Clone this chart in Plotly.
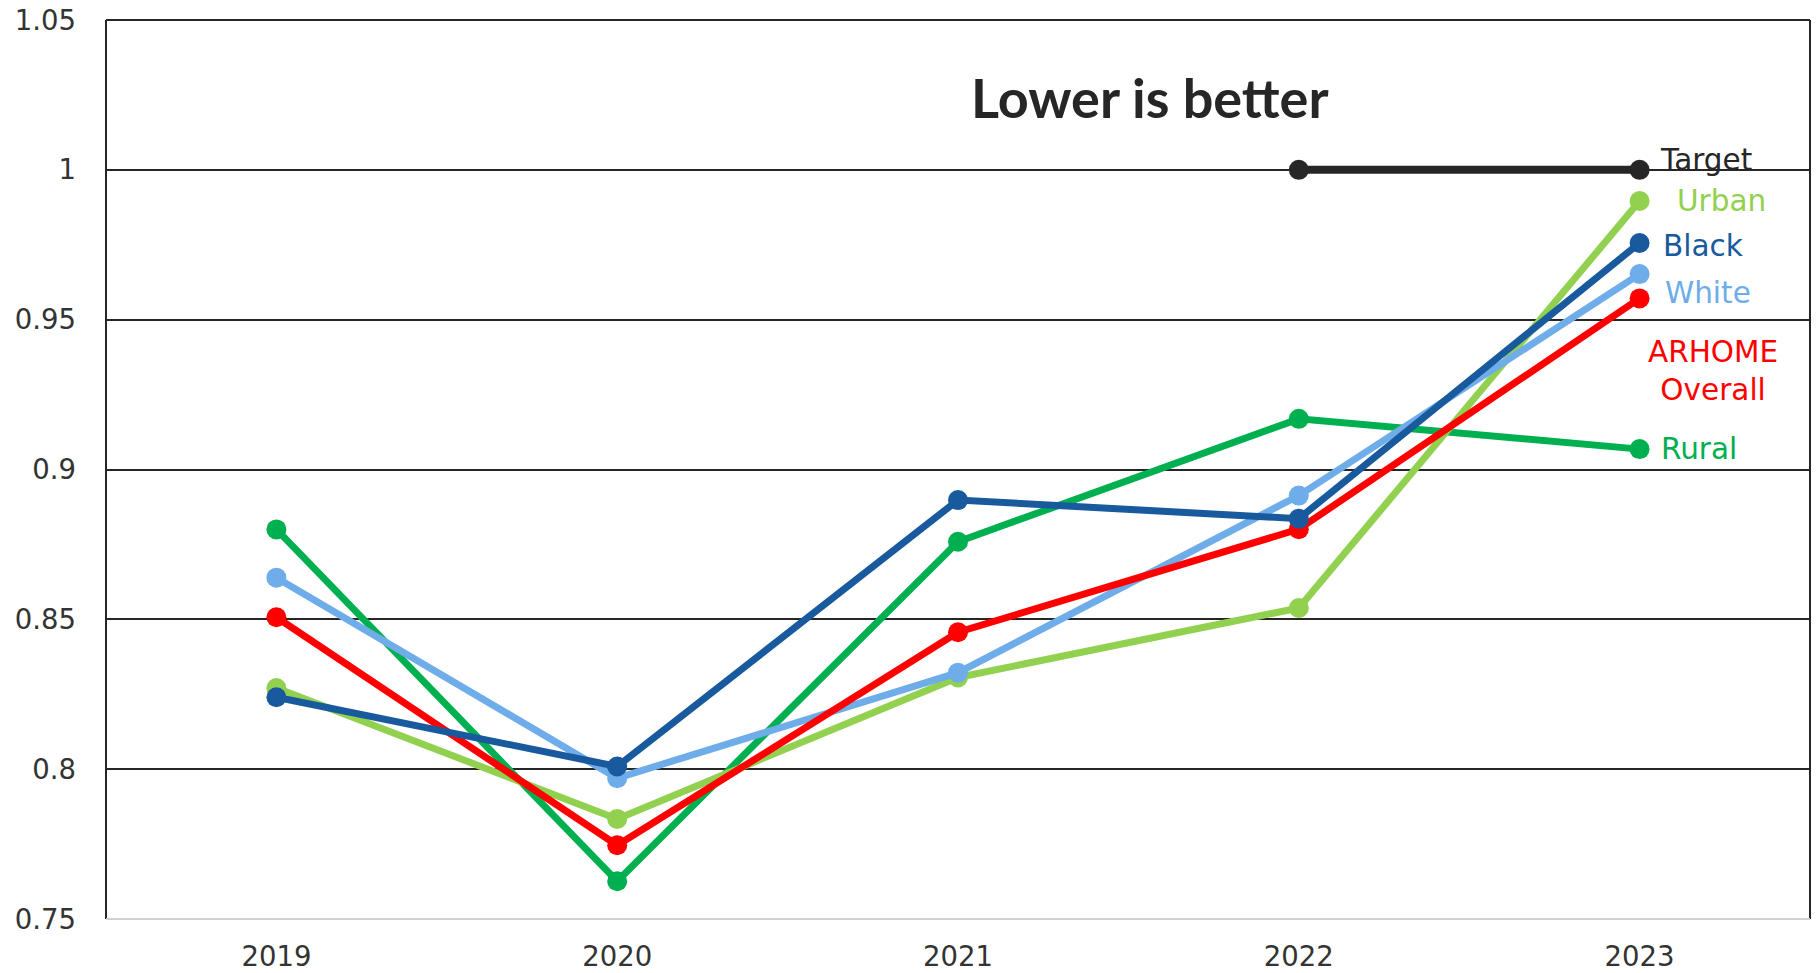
import plotly.graph_objects as go

years = ["2019", "2020", "2021", "2022", "2023"]
rural = [0.880, 0.7626, 0.8759, 0.9169, 0.9068]
urban = [0.8271, 0.7834, 0.8306, 0.8538, 0.9896]
white = [0.8639, 0.7970, 0.8322, 0.8913, 0.9652]
overall = [0.8507, 0.7746, 0.8457, 0.8801, 0.9571]
black = [0.8240, 0.8009, 0.8898, 0.8836, 0.9756]
target_years = ["2022", "2023"]
target = [1.0, 1.0]

y_ticks = [0.75, 0.8, 0.85, 0.9, 0.95, 1.0, 1.05]
y_tick_labels = ["0.75", "0.8", "0.85", "0.9", "0.95", "1", "1.05"]

C_RURAL = "#00B050"
C_URBAN = "#92D050"
C_WHITE = "#6EADE9"
C_RED = "#FF0000"
C_BLACK = "#185A9D"
C_TARGET = "#262626"

FONT = "DejaVu Sans"

fig = go.Figure()

def add_line(x, y, color, name, width=7):
    fig.add_trace(go.Scatter(
        x=x, y=y, mode="lines+markers", name=name,
        line=dict(color=color, width=width),
        marker=dict(color=color, size=20),
        showlegend=False, hoverinfo="x+y+name",
    ))

add_line(years, rural, C_RURAL, "Rural")
add_line(years, urban, C_URBAN, "Urban")
add_line(years, white, C_WHITE, "White")
add_line(years, overall, C_RED, "ARHOME Overall")
add_line(years, black, C_BLACK, "Black")
add_line(target_years, target, C_TARGET, "Target", width=8)

last = len(years) - 1
# end labels: (text, y value, colour, xanchor, xshift, yshift)
labels = [
    ("Target", target[-1], C_TARGET, "left", 18, 10),
    ("Urban", urban[-1], C_URBAN, "left", 35, 0),
    ("Black", black[-1], C_BLACK, "left", 21, -3),
    ("White", white[-1], C_WHITE, "left", 23, -19),
    ("ARHOME<br>Overall", overall[-1], C_RED, "center", 73, -73),
    ("Rural", rural[-1], C_RURAL, "left", 19, 0),
]
for txt, yv, col, xa, xs, ys in labels:
    fig.add_annotation(
        x=last, y=yv, text=txt, showarrow=False,
        xanchor=xa, yanchor="middle", xshift=xs, yshift=ys,
        font=dict(family=FONT, size=29.5, color=col),
        align="center",
    )

fig.add_annotation(
    xref="paper", yref="paper", x=0.6127, y=0.914,
    text="<b>Lower is better</b>", showarrow=False,
    xanchor="center", yanchor="middle",
    font=dict(family="Lato", size=54, color="#262626"),
)

# plot border lines
border = "#262626"
fig.add_shape(type="line", xref="paper", yref="paper", x0=0, x1=1, y0=1, y1=1,
              line=dict(color=border, width=2))
fig.add_shape(type="line", xref="paper", yref="paper", x0=1, x1=1, y0=0, y1=1,
              line=dict(color=border, width=2))
fig.add_shape(type="line", xref="paper", yref="paper", x0=0, x1=0, y0=0, y1=1,
              line=dict(color=border, width=2))
fig.add_shape(type="line", xref="paper", yref="paper", x0=0, x1=1, y0=0, y1=0,
              line=dict(color="#D0D0D0", width=2))

fig.update_layout(
    width=1819, height=973,
    margin=dict(l=106, r=9, t=20, b=54, autoexpand=False),
    paper_bgcolor="white", plot_bgcolor="white",
    font=dict(family=FONT, color="#333333"),
    xaxis=dict(
        type="category", range=[-0.5, 4.5], showgrid=False, zeroline=False,
        showline=False, ticks="", automargin=False,
        tickfont=dict(family=FONT, size=27.5, color="#333333"),
        ticklabelstandoff=18,
    ),
    yaxis=dict(
        range=[0.75, 1.05], tickvals=y_ticks, ticktext=y_tick_labels,
        showgrid=True, gridcolor="#262626", gridwidth=2, zeroline=False,
        showline=False, ticks="", automargin=False,
        tickfont=dict(family=FONT, size=27.5, color="#333333"),
        ticklabelstandoff=29,
    ),
)

fig.write_html("out.html", config={"displayModeBar": False},
               post_script="document.body.style.margin='0';")
